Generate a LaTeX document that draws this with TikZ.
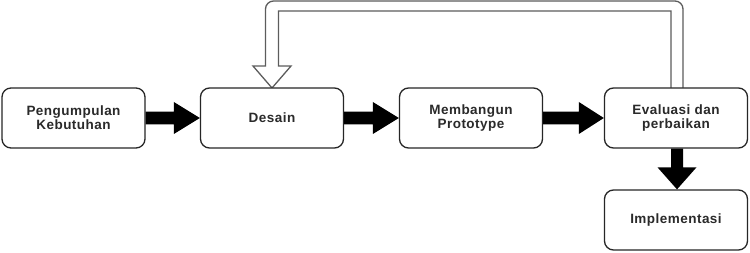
\documentclass[tikz,border=0pt]{standalone}
\usepackage{fontspec}
\newfontfamily\boxfont[LetterSpace=3.5]{Liberation Sans}
\usetikzlibrary{calc}

\definecolor{boxline}{HTML}{262626}
\definecolor{textgray}{HTML}{2A2A2A}
\definecolor{loopline}{HTML}{5C5C5C}

% solid block arrow from #1 to #2; #3 = head length, #4 = head half width, #5 = shaft half width
\newcommand\fatarrow[5]{%
  \coordinate (fa-h) at ($(#2)!#3!(#1)$);
  \fill[black] ($(#1)!#5!90:(#2)$) -- ($(fa-h)!#5!90:(#2)$) -- ($(fa-h)!#4!90:(#2)$)
    -- (#2) -- ($(fa-h)!#4!-90:(#2)$) -- ($(fa-h)!#5!-90:(#2)$) -- ($(#1)!#5!-90:(#2)$) -- cycle;}

\begin{document}
\begin{tikzpicture}[x=1pt,y=1pt,
  stage/.style={draw=boxline, line width=1.3pt, fill=white, rounded corners=9pt,
    minimum width=143pt, minimum height=60pt, inner sep=0pt, align=center,
    font=\boxfont\bfseries\fontsize{13.5}{14}\selectfont, text=textgray}]
\useasboundingbox (0,0) rectangle (750,252);

% feedback loop (hollow arrow) from the review stage back to the design stage
\coordinate (loopstart) at (677,134);
\coordinate (loopend) at (272,164);
\filldraw[draw=loopline, fill=white, line width=1.3pt, line join=miter]
  let \p1=(loopstart), \p2=(loopend) in
  (\x1+6,\y1) -- (\x1+6,243) arc[start angle=0, end angle=90, radius=8]
  -- (\x2+1.5,251) arc[start angle=90, end angle=180, radius=8]
  -- (\x2-6.5,186) -- (\x2-19,186) -- (\x2,\y2) -- (\x2+19,186) -- (\x2+6.5,186)
  -- (\x2+6.5,241) -- (\x1-6,241) -- (\x1-6,\y1) -- cycle;

% process stages
\node[stage] (collect) at (73.5,134) {Pengumpulan\\Kebutuhan};
\node[stage] (design)  at (272,134)  {Desain};
\node[stage] (build)   at (471,134)  {Membangun\\Prototype};
\node[stage] (review)  at (676,134)  {Evaluasi dan\\perbaikan};
\node[stage] (deploy)  at (676,32)   {Implementasi};

% block arrows between stages
\fatarrow{collect.east}{design.west}{26pt}{16pt}{6.3pt}
\fatarrow{design.east}{build.west}{26pt}{16pt}{6.3pt}
\fatarrow{build.east}{review.west}{25pt}{16pt}{6.3pt}
\coordinate (downstart) at ($(review.south)+(1,0)$);
\coordinate (downend) at ($(deploy.north)+(1,0)$);
\fatarrow{downstart}{downend}{22pt}{19.5pt}{6pt}
\end{tikzpicture}
\end{document}
